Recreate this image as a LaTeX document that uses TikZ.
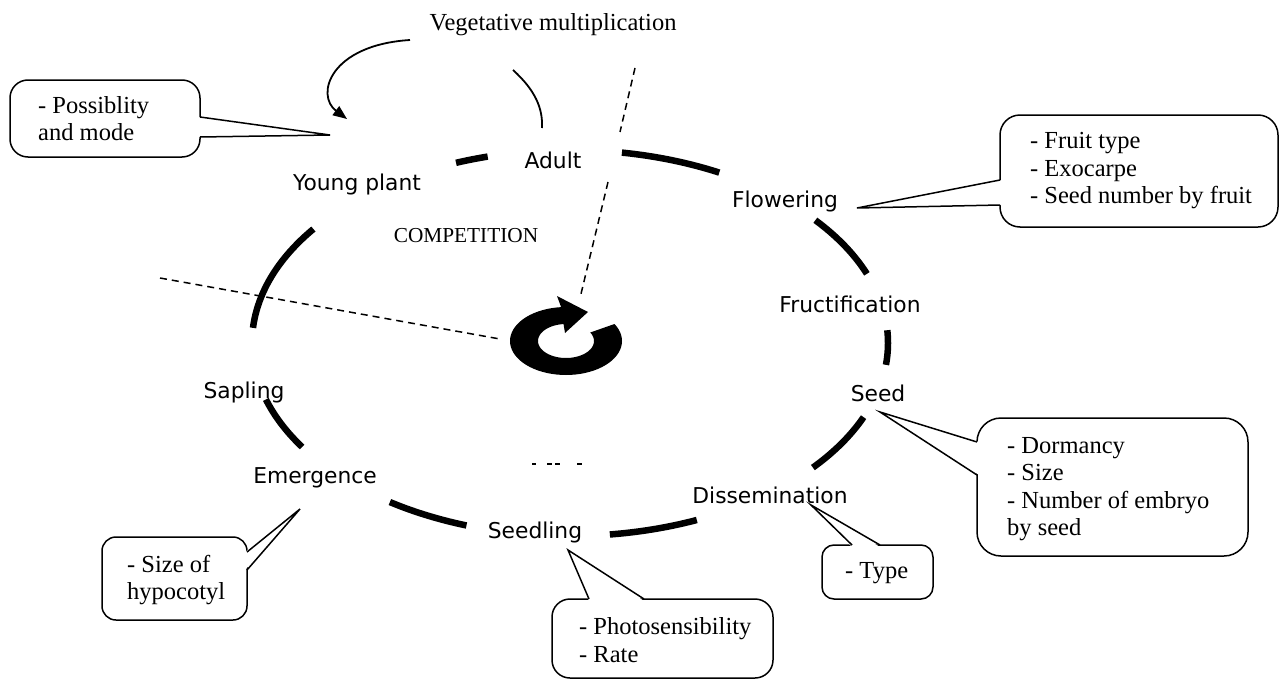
\documentclass[tikz,border=0pt]{standalone}
\usepackage{fontspec}
\setmainfont{Liberation Serif}
\newfontfamily\lblfont{DejaVu Sans}
\usetikzlibrary{arrows.meta}
\begin{document}
\begin{tikzpicture}[x=1pt,y=-1pt,
  stage/.style={font=\lblfont\fontsize{21.8}{26}\selectfont, inner sep=0pt, anchor=base},
  serif/.style={font=\fontsize{24.5}{27.5}\selectfont, inner sep=0pt, anchor=base},
  note/.style={draw, line width=1.5pt, rounded corners=#1, fill=white, inner sep=0pt},
  note/.default=20pt,
  notetext/.style={font=\fontsize{24.5}{27.5}\selectfont, align=left, inner sep=0pt, anchor=west},
  ring/.style={line width=6.5pt},
  thinline/.style={line width=1.8pt},
  dashline/.style={line width=1.5pt, dash pattern=on 7pt off 5pt},
  tail/.style={line width=1.5pt, line join=miter},
]
\useasboundingbox (0,0) rectangle (1280,680);

% ---- ring segments (ellipse arcs)
\foreach \a/\b in {-111/-105, -80.6/-62, -39.5/-21, -3.8/6.5, 22.6/40.2, 66.5/82.8, 109/124.5, 147.4/163, 184.5/216.2}
  \draw[ring] plot[domain=\a:\b, samples=25] ({570+318*cos(\x)},{343+193*sin(\x)});

% ---- central circular arrow
\fill plot[domain=-30:265, samples=60] ({566+56*cos(\x)},{341+34*sin(\x)})
  -- (557,296) -- (588,312) -- (565,333)
  -- plot[domain=265:-30, samples=60] ({566+28*cos(\x)},{341+17*sin(\x)}) -- cycle;

% ---- stage labels
\node[stage] (adult) at (553,168) {Adult};
\node[stage] (young) at (357,190) {Young plant};
\node[stage] (flower) at (785,207) {Flowering};
\node[stage] (fruct) at (850,312) {Fructification};
\node[stage] (seed) at (878,401) {Seed};
\node[stage] (dissem) at (770,503) {Dissemination};
\node[stage] (seedling) at (535,538) {Seedling};
\node[stage] (emerg) at (315,483) {Emergence};
\node[stage] (sapling) at (244,398) {Sapling};
\node[serif, font=\fontsize{21.3}{24}\selectfont] (comp) at (466,242) {COMPETITION};
\node[serif] (veg) at (553,30) {Vegetative multiplication};

% ---- vegetative multiplication arrow and arc
\coordinate (vstart) at (410,40);
\coordinate (vend) at (347,119);
\draw[thinline, -{Triangle[length=14pt,width=11pt]}] (vstart) .. controls (330,45) and (315,95) .. (vend);
\coordinate (astart) at (513,70);
\coordinate (aend) at (542,128);
\draw[thinline] (astart) .. controls (535,90) and (543,108) .. (aend);

% ---- dashed lines
\coordinate (d1) at (635,68);
\coordinate (d2) at (620,132);
\coordinate (d3) at (608,182);
\coordinate (d4) at (580,298);
\draw[dashline] (d1) -- (d2);
\draw[dashline] (d3) -- (d4);
\coordinate (d5) at (160,278);
\coordinate (d6) at (500,339);
\draw[dashline] (d5) -- (d6);

% ---- small dash remnants
\foreach \u/\v in {532/536, 547/552, 555/560, 577/582}
  \fill (\u,462.8) rectangle (\v,465.3);

% ---- callouts
\node[note=18pt, minimum width=190pt, minimum height=77pt] (pbox) at (105,118.5) {};
\node[notetext] (ptext) at (38,118.5) {- Possiblity\\and mode};
\coordinate (ptip) at (330,135);
\fill[white] (198,117) -- (ptip) -- (198,137) -- cycle;
\draw[tail] (200,117) -- (ptip) -- (200,137);

\node[note=20pt, minimum width=278pt, minimum height=112pt] (fbox) at (1139,171) {};
\node[notetext] (ftext) at (1030,171) {- Fruit type\\- Exocarpe\\- Seed number by fruit};
\coordinate (ftip) at (857,208);
\fill[white] (1002,180) -- (ftip) -- (1002,205) -- cycle;
\draw[tail] (1000,180) -- (ftip) -- (1000,205);

\node[note=24pt, minimum width=271pt, minimum height=138pt] (sbox) at (1112.5,487) {};
\node[notetext] (stext) at (1007,489) {- Dormancy\\- Size\\- Number of embryo\\by seed};
\coordinate (stip) at (880,412);
\fill[white] (979,442) -- (stip) -- (979,475) -- cycle;
\draw[tail] (977,442) -- (stip) -- (977,475);

\node[note=12pt, minimum width=111pt, minimum height=54pt] (tbox) at (877.5,572) {};
\node[notetext] (ttext) at (845,573) {- Type};
\coordinate (ttip) at (811,505);
\fill[white] (852,547) -- (ttip) -- (880,547) -- cycle;
\draw[tail] (852,545) -- (ttip) -- (880,545);

\node[note=18pt, minimum width=221pt, minimum height=79pt] (lbox) at (662.5,638.5) {};
\node[notetext] (ltext) at (579,640) {- Photosensibility\\- Rate};
\coordinate (ltip) at (568,550);
\fill[white] (589,601) -- (ltip) -- (644,601) -- cycle;
\draw[tail] (589,599) -- (ltip) -- (644,599);

\node[note=14pt, minimum width=145pt, minimum height=83pt] (ebox) at (174.5,578.5) {};
\node[notetext] (etext) at (127,580) {- Size of\\hypocotyl};
\coordinate (etip) at (300,509);
\fill[white] (245,552) -- (etip) -- (245,570) -- cycle;
\draw[tail] (247,552) -- (etip) -- (247,570);
\end{tikzpicture}
\end{document}
